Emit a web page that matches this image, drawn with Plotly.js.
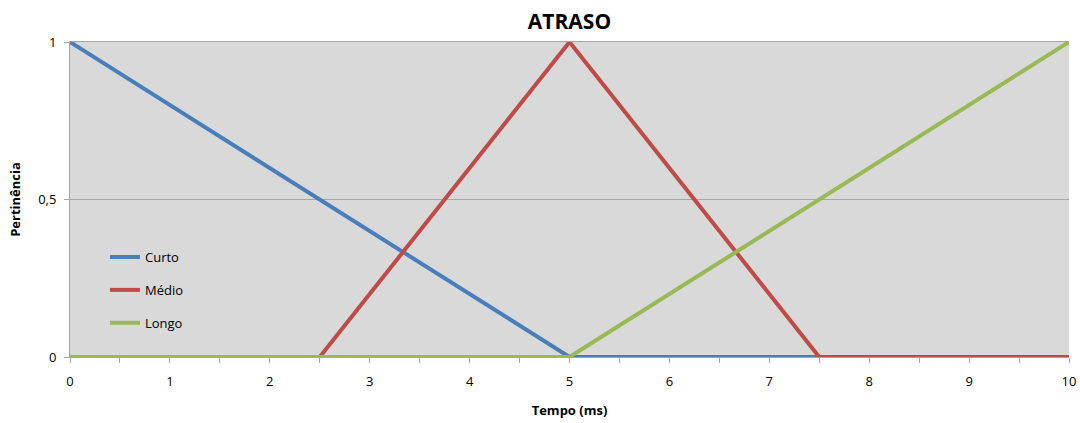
<!DOCTYPE html>
<html><head><meta charset="utf-8">
<script src="https://cdn.plot.ly/plotly-3.0.1.min.js"></script>
<style>body{margin:0;background:#fff}#c{width:1080px;height:423px}</style>
</head><body><div id="c"></div>
<script>
var curtoX = [0, 5, 10];
var curtoY = [1, 0, 0];
var medioX = [0, 2.5, 5, 7.5, 10];
var medioY = [0, 0, 1, 0, 0];
var longoX = [0, 5, 10];
var longoY = [0, 0, 1];
var xTicks = [0,1,2,3,4,5,6,7,8,9,10];
var yTickVals = [0, 0.5, 1];
var yTickText = ['0', '0,5', '1'];

var font = 'Open Sans, Liberation Sans, Arial, sans-serif';
var traces = [
  {x: curtoX, y: curtoY, name: 'Curto', mode: 'lines', line: {color: '#4A7EBB', width: 4}, legendgroup: 'a'},
  {x: medioX, y: medioY, name: 'Médio', mode: 'lines', line: {color: '#BE4B48', width: 4}, legendgroup: 'b'},
  {x: longoX, y: longoY, name: 'Longo', mode: 'lines', line: {color: '#98B954', width: 4}, legendgroup: 'c'}
];
var layout = {
  width: 1080, height: 423,
  margin: {l: 70, r: 11, t: 42, b: 66},
  paper_bgcolor: '#ffffff', plot_bgcolor: '#D9D9D9',
  font: {family: font, size: 13, color: '#000'},
  title: {text: '<b>ATRASO</b>', x: 0.5, xref: 'paper', y: 0.95, yanchor: 'middle', font: {family: 'Open Sans, sans-serif', size: 21, color: '#000'}},
  showlegend: true,
  legend: {x: 0.035, y: 0.365, xanchor: 'left', yanchor: 'top', bgcolor: 'rgba(0,0,0,0)', tracegroupgap: 13, font: {size: 13}, itemwidth: 30},
  xaxis: {
    range: [0, 10], tickvals: xTicks, showgrid: false, zeroline: false,
    showline: true, linecolor: '#A6A6A6', linewidth: 1, mirror: true,
    ticks: 'outside', ticklen: 5, tickcolor: '#A6A6A6', ticklabelstandoff: 7,
    minor: {dtick: 0.5, tick0: 0, ticks: 'outside', ticklen: 5, tickcolor: '#A6A6A6', showgrid: false},
    title: {text: '<b>Tempo (ms)</b>', font: {size: 13}, standoff: 17},
    tickfont: {size: 13}
  },
  yaxis: {
    range: [0, 1], tickvals: yTickVals, ticktext: yTickText,
    showgrid: true, gridcolor: '#A6A6A6', gridwidth: 1, zeroline: false,
    showline: true, linecolor: '#A6A6A6', linewidth: 1,
    ticks: 'outside', ticklen: 5, tickcolor: '#A6A6A6', ticklabelstandoff: 5,
    title: {text: '<b>Pertinência</b>', font: {size: 13}, standoff: 14},
    tickfont: {size: 13}
  }
};
Plotly.newPlot('c', traces, layout, {displayModeBar: false, staticPlot: true});
</script></body></html>
